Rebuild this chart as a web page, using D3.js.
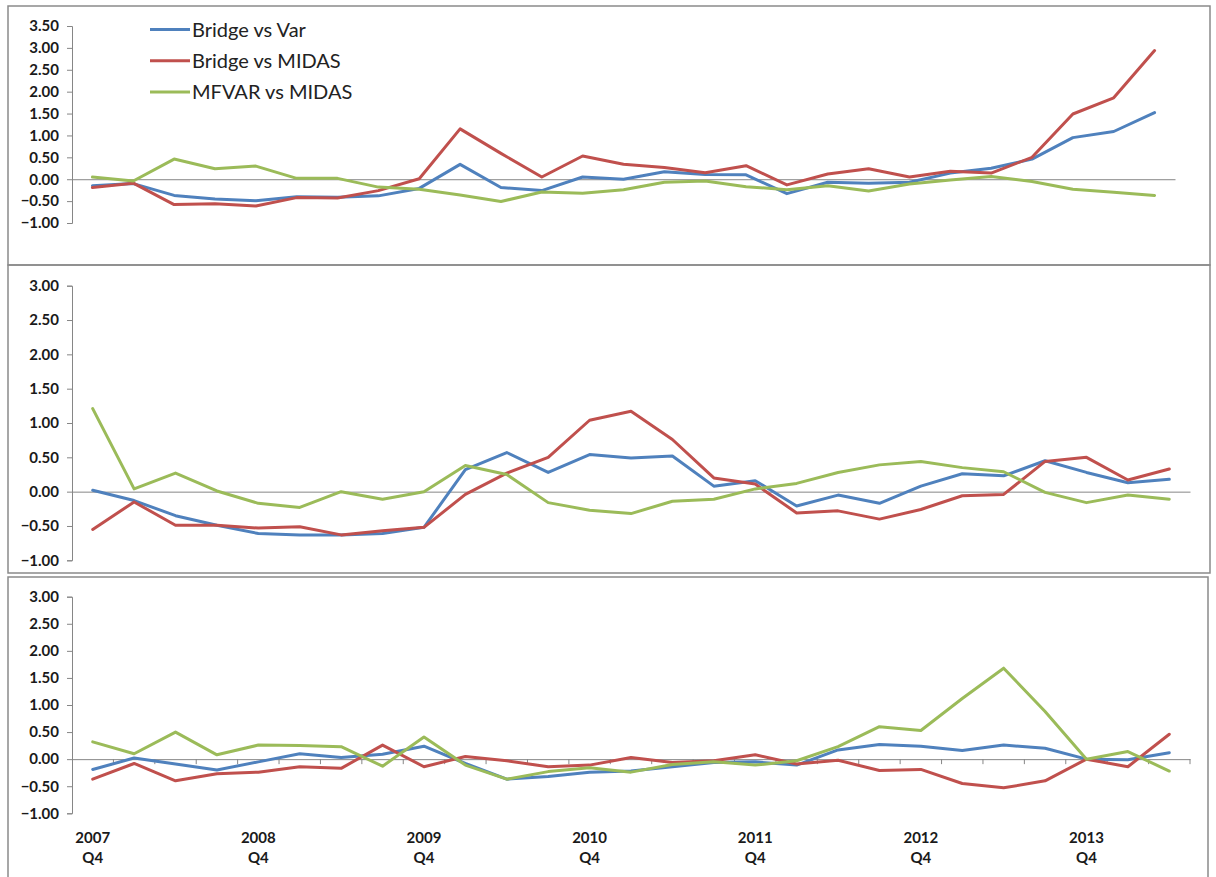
<!DOCTYPE html>
<html>
<head>
<meta charset="utf-8">
<script src="https://cdn.jsdelivr.net/npm/d3@7/dist/d3.min.js"></script>
<style>
  html, body { margin: 0; padding: 0; background: #fff; }
  svg { display: block; }
  .tick text { font-family: Lato, "Open Sans", sans-serif; }
</style>
</head>
<body>
<svg id="chart" width="1216" height="877"></svg>
<script>
// ---------- DATA ----------
const quarters = ["2007 Q4","2008 Q1","2008 Q2","2008 Q3","2008 Q4","2009 Q1","2009 Q2","2009 Q3","2009 Q4",
  "2010 Q1","2010 Q2","2010 Q3","2010 Q4","2011 Q1","2011 Q2","2011 Q3","2011 Q4",
  "2012 Q1","2012 Q2","2012 Q3","2012 Q4","2013 Q1","2013 Q2","2013 Q3","2013 Q4","2014 Q1","2014 Q2"];
const seriesNames = ["Bridge vs Var", "Bridge vs MIDAS", "MFVAR vs MIDAS"];

// Panel 1
const p1BridgeVar   = [-0.15,-0.10,-0.37,-0.45,-0.49,-0.40,-0.41,-0.38,-0.21,0.34,-0.19,-0.26,0.05,0.00,0.17,0.11,0.10,-0.33,-0.07,-0.09,-0.07,0.14,0.25,0.46,0.95,1.09,1.52];
const p1BridgeMidas = [-0.19,-0.09,-0.58,-0.56,-0.61,-0.42,-0.43,-0.26,0.01,1.15,0.59,0.05,0.53,0.34,0.27,0.15,0.31,-0.13,0.12,0.24,0.05,0.18,0.14,0.50,1.49,1.86,2.94];
const p1MfvarMidas  = [0.05,-0.04,0.46,0.24,0.30,0.02,0.02,-0.18,-0.23,-0.36,-0.51,-0.29,-0.32,-0.24,-0.07,-0.04,-0.17,-0.24,-0.15,-0.27,-0.11,-0.02,0.06,-0.05,-0.23,-0.30,-0.37];

// Panel 2
const p2BridgeVar   = [0.02,-0.13,-0.35,-0.49,-0.61,-0.63,-0.63,-0.61,-0.52,0.32,0.57,0.28,0.54,0.49,0.52,0.08,0.16,-0.21,-0.05,-0.17,0.08,0.26,0.23,0.45,0.28,0.13,0.18];
const p2BridgeMidas = [-0.55,-0.15,-0.49,-0.49,-0.53,-0.51,-0.63,-0.57,-0.52,-0.04,0.27,0.50,1.04,1.17,0.76,0.20,0.11,-0.31,-0.28,-0.40,-0.26,-0.06,-0.04,0.44,0.50,0.17,0.33];
const p2MfvarMidas  = [1.21,0.04,0.27,0.01,-0.17,-0.23,0.00,-0.11,0.00,0.38,0.25,-0.16,-0.27,-0.32,-0.14,-0.11,0.04,0.12,0.28,0.39,0.44,0.35,0.29,-0.01,-0.16,-0.05,-0.11];

// Panel 3
const p3BridgeVar   = [-0.19,0.02,-0.09,-0.20,-0.05,0.10,0.03,0.09,0.24,-0.08,-0.37,-0.32,-0.24,-0.22,-0.14,-0.06,-0.05,-0.11,0.17,0.27,0.24,0.16,0.26,0.20,0.00,-0.01,0.12];
const p3BridgeMidas = [-0.37,-0.08,-0.40,-0.27,-0.24,-0.14,-0.17,0.26,-0.14,0.05,-0.03,-0.14,-0.11,0.03,-0.06,-0.03,0.08,-0.09,-0.02,-0.21,-0.19,-0.45,-0.53,-0.40,0.00,-0.14,0.46];
const p3MfvarMidas  = [0.32,0.10,0.50,0.08,0.26,0.25,0.23,-0.13,0.41,-0.11,-0.37,-0.23,-0.16,-0.24,-0.10,-0.05,-0.11,-0.03,0.23,0.60,0.53,1.12,1.68,0.88,0.00,0.14,-0.22];

const topTicks = [3.5,3.0,2.5,2.0,1.5,1.0,0.5,0.0,-0.5,-1.0];
const lowTicks = [3.0,2.5,2.0,1.5,1.0,0.5,0.0,-0.5,-1.0];

const colors = ["#4F81BD", "#C0504D", "#9BBB59"];

// ---------- LAYOUT ----------
const panels = [
  { series: [p1BridgeVar, p1BridgeMidas, p1MfvarMidas], domain: [-1, 3.5], ticks: topTicks,
    yTop: 26, yBot: 223, xEnd: 1175, frame: [8, 6, 1202, 259], legend: true, catTicks: false, xLabels: false },
  { series: [p2BridgeVar, p2BridgeMidas, p2MfvarMidas], domain: [-1, 3], ticks: lowTicks,
    yTop: 285.7, yBot: 560.3, xEnd: 1190, frame: [8, 265, 1202, 308], legend: false, catTicks: false, xLabels: false },
  { series: [p3BridgeVar, p3BridgeMidas, p3MfvarMidas], domain: [-1, 3], ticks: lowTicks,
    yTop: 596.7, yBot: 813.3, xEnd: 1190, frame: [8, 577, 1200, 310], legend: false, catTicks: true, xLabels: true }
];

const svg = d3.select("#chart");
const axisColor = "#868686";
const fontFam = "Lato, 'Open Sans', sans-serif";

panels.forEach((p, pi) => {
  const g = svg.append("g");
  // frame
  g.append("rect")
    .attr("x", p.frame[0]).attr("y", p.frame[1])
    .attr("width", p.frame[2]).attr("height", p.frame[3])
    .attr("fill", "none").attr("stroke", "#8a8a8a").attr("stroke-width", 1.5);

  const x = d3.scaleBand().domain(quarters).range([72, p.xEnd]).paddingInner(0).paddingOuter(0);
  const y = d3.scaleLinear().domain(p.domain).range([p.yBot, p.yTop]);

  // y axis
  const yAxis = d3.axisLeft(y).tickValues(p.ticks).tickFormat(d3.format(".2f")).tickSize(5).tickPadding(8);
  const ya = g.append("g").attr("transform", "translate(72,0)").call(yAxis);
  ya.select(".domain").attr("stroke", axisColor).attr("stroke-width", 1);
  ya.selectAll(".tick line").attr("stroke", axisColor);
  ya.selectAll(".tick text")
    .attr("font-size", 15).attr("font-weight", 700).attr("fill", "#1a1a1a")
    .attr("font-family", fontFam);

  // zero (category) axis line
  const xAxis = d3.axisBottom(x).tickValues([]).tickSize(0);
  const xa = g.append("g").attr("transform", `translate(0,${y(0)})`).call(xAxis);
  xa.select(".domain").attr("stroke", axisColor).attr("stroke-width", 1);

  if (p.catTicks) {
    // tick marks between categories
    const bounds = quarters.slice(1).map(q => x(q)).concat([x(quarters[quarters.length - 1]) + x.bandwidth()]);
    g.append("g").selectAll("line").data(bounds).join("line")
      .attr("x1", d => d).attr("x2", d => d)
      .attr("y1", y(0)).attr("y2", y(0) + 5)
      .attr("stroke", axisColor).attr("stroke-width", 1);
  }

  if (p.xLabels) {
    const labelCats = quarters.filter(q => q.endsWith("Q4"));
    const lg = g.append("g");
    labelCats.forEach(q => {
      const cx = x(q) + x.bandwidth() / 2;
      const parts = q.split(" ");
      lg.append("text").attr("x", cx).attr("y", 843).attr("text-anchor", "middle")
        .attr("font-family", fontFam).attr("font-size", 15).attr("font-weight", 700)
        .attr("fill", "#1a1a1a").text(parts[0]);
      lg.append("text").attr("x", cx).attr("y", 863).attr("text-anchor", "middle")
        .attr("font-family", fontFam).attr("font-size", 15).attr("font-weight", 700)
        .attr("fill", "#1a1a1a").text(parts[1]);
    });
  }

  // lines
  const line = d3.line()
    .x((d, i) => x(quarters[i]) + x.bandwidth() / 2)
    .y(d => y(d));
  p.series.forEach((s, si) => {
    g.append("path").datum(s)
      .attr("fill", "none").attr("stroke", colors[si]).attr("stroke-width", 3)
      .attr("stroke-linejoin", "round").attr("stroke-linecap", "round")
      .attr("d", line);
  });

  if (p.legend) {
    const leg = g.append("g");
    seriesNames.forEach((n, i) => {
      const ly = 29.5 + i * 31.2;
      leg.append("line").attr("x1", 150).attr("x2", 190).attr("y1", ly).attr("y2", ly)
        .attr("stroke", colors[i]).attr("stroke-width", 3);
      leg.append("text").attr("x", 192).attr("y", ly).attr("dy", "0.36em")
        .attr("font-family", fontFam).attr("font-size", 20)
        .attr("fill", "#222").text(n);
    });
  }
});
</script>
</body>
</html>
